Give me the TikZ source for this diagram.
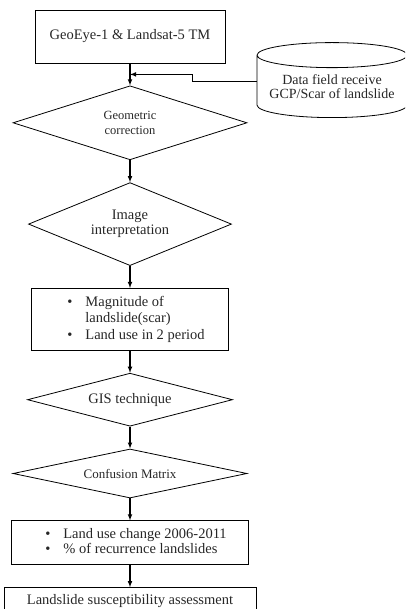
\documentclass[tikz,border=0pt]{standalone}
\usepackage{fontspec}
\setmainfont{Liberation Serif}
\usetikzlibrary{positioning}
\usetikzlibrary{shapes}
\usetikzlibrary{calc}

\begin{document}
\begin{tikzpicture}[
node distance=22pt,
every node/.style={font=\fontsize{14.5}{15}\selectfont, text=black!85},
line width=0.8pt
]
\tikzstyle{box} = [draw, shape=rectangle, minimum width=190pt, minimum height=53pt, inner sep=0pt]
\tikzstyle{dec} = [draw, shape=diamond, aspect=3, inner sep=0pt, align=center]
\tikzstyle{db} = [draw, shape=cylinder, shape border rotate=90, aspect=0.2, inner sep=0pt, align=center]
\tikzstyle{arr} = [draw, line width=1.1pt, -latex]

\useasboundingbox (0,0) rectangle (405pt,-609pt);
\clip (0,0) rectangle (405pt,-609pt);

\node[box] (sat) at (130pt,-36.5pt) {GeoEye-1 \& Landsat-5 TM};
\node[dec, minimum width=234pt, minimum height=74pt, below=of sat,
      font=\fontsize{12.5}{15}\selectfont] (geo) {Geometric\\correction};
\node[dec, minimum width=203pt, minimum height=83pt, below=of geo] (img) {Image\\interpretation};
\node[box, minimum width=197pt, minimum height=62pt, below=of img,
      font=\fontsize{14.5}{16.5}\selectfont] (mag) {%
  \begin{tabular}{@{\hspace{12pt}}l@{\hspace{13pt}}l@{}}
  \textbullet & Magnitude of\\
              & landslide(scar)\\
  \textbullet & Land use in 2 period
  \end{tabular}};
\node[dec, minimum width=205pt, minimum height=53pt, below=of mag] (gis) {GIS technique};
\node[dec, minimum width=234pt, minimum height=49pt, below=of gis,
      font=\fontsize{13}{15}\selectfont] (cm) {Confusion Matrix};
\node[box, minimum width=237pt, minimum height=44pt, below=of cm] (luc) {%
  \begin{tabular}{@{\hspace{12pt}}l@{\hspace{13pt}}l@{}}
  \textbullet & Land use change 2006-2011\\
  \textbullet & \% of recurrence landslides
  \end{tabular}};
\node[box, minimum width=252pt, minimum height=26pt, below=of luc] (lsa) {Landslide susceptibility assessment};

\node[db, minimum width=150pt, minimum height=75pt, anchor=south,
      font=\fontsize{14}{13.5}\selectfont]
  (data) at (332pt,-118pt) {Data field receive\\GCP/Scar of landslide};

% main flow
\draw[arr] (sat) -- (geo);
\draw[arr] (geo) -- (img);
\draw[arr] (img) -- (mag);
\draw[arr] (mag) -- (gis);
\draw[arr] (gis) -- (cm);
\draw[arr] (cm) -- (luc);
\draw[arr] (luc) -- (lsa);

% field data joins the first arrow
\coordinate (j) at ($(sat.south)!.5!(geo.north)$);
\coordinate (dw) at ([yshift=5pt]data.west);
\draw[arr] (dw) -- ++(-64pt,0) |- (j);
\end{tikzpicture}
\end{document}
